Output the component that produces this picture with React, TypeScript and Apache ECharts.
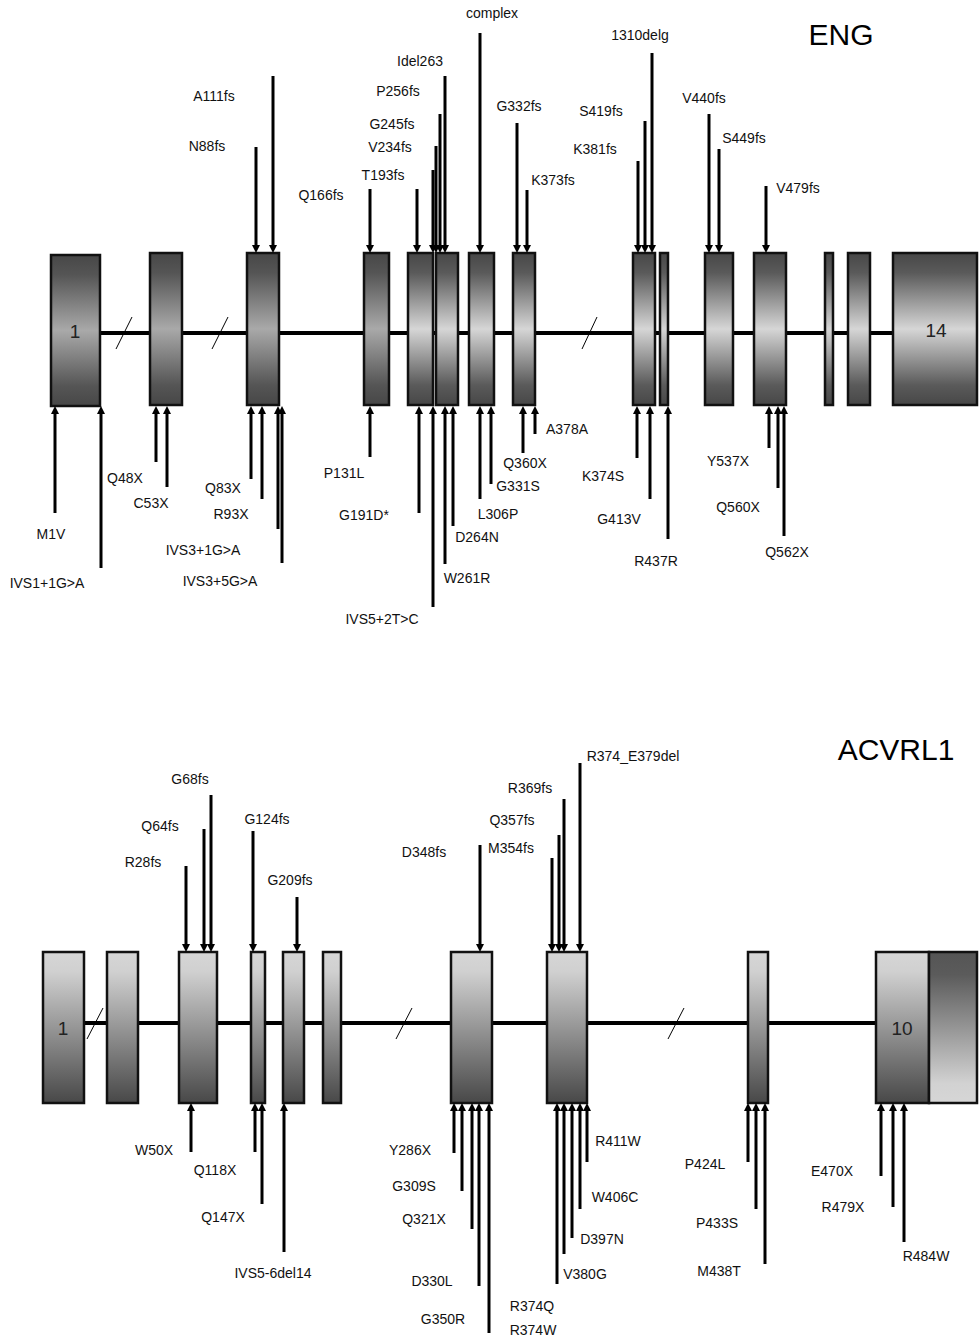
import React, { useEffect, useRef } from "react";
import * as echarts from "echarts";

const W = 979;
const H = 1340;

// Titles and exon numbers: [text, x, y]
const TITLES: [string, number, number][] = [
  ["ENG", 841, 34],
  ["ACVRL1", 896, 749],
];
const EXON_NUMBERS: [string, number, number][] = [
  ["1", 75, 331],
  ["14", 936, 330],
  ["1", 63, 1028],
  ["10", 902, 1028],
];

// Exons: [xStart, xEnd, yTop, yBottom, shade]
const ENG_EXONS: number[][] = [
  [51, 100, 255, 406, 0],
  [150, 182, 253, 405, 0],
  [247, 279, 253, 405, 0],
  [364, 389, 253, 405, 0],
  [408, 433, 253, 405, 1],
  [436, 458, 253, 405, 1],
  [469, 494, 253, 405, 1],
  [513, 535, 253, 405, 1],
  [633, 655, 253, 405, 1],
  [660, 668, 253, 405, 1],
  [705, 733, 253, 405, 1],
  [754, 786, 253, 405, 1],
  [825, 833, 253, 405, 1],
  [848, 870, 253, 405, 1],
  [893, 977, 253, 405, 1],
];
const ACVRL1_EXONS: number[][] = [
  [43, 84, 952, 1103, 2],
  [107, 138, 952, 1103, 2],
  [179, 217, 952, 1103, 2],
  [251, 265, 952, 1103, 2],
  [283, 304, 952, 1103, 2],
  [323, 341, 952, 1103, 2],
  [451, 492, 952, 1103, 2],
  [547, 587, 952, 1103, 2],
  [748, 768, 952, 1103, 2],
  [876, 929, 952, 1103, 2],
  [929, 977, 952, 1103, 3],
];

// Backbone (intron) lines: [x0, y0, x1, y1]
const BACKBONES: number[][] = [
  [100, 333, 893, 333],
  [84, 1023, 876, 1023],
];
// Break marks: [x0, y0, x1, y1]
const BREAKS: number[][] = [
  [116, 349, 132, 317],
  [212, 349, 228, 317],
  [582, 349, 597, 317],
  [87, 1039, 103, 1008],
  [396, 1039, 412, 1008],
  [668, 1039, 684, 1008],
];

// Arrow tip positions (exon edges)
const ENG_TOP_TIP = 253;
const ENG_BOTTOM_TIP = 406;
const ACVRL1_TOP_TIP = 952;
const ACVRL1_BOTTOM_TIP = 1103;

// Mutations: [label, arrowX, arrowTailY, labelX, labelY]
type Mut = [string, number | null, number | null, number, number];

const ENG_TOP: Mut[] = [
  ["N88fs", 256, 147, 207, 146],
  ["A111fs", 273, 76, 214, 96],
  ["Q166fs", 370, 189, 321, 195],
  ["T193fs", 417, 189, 383, 175],
  ["V234fs", 433, 170, 390, 147],
  ["G245fs", 436, 146, 392, 124],
  ["P256fs", 440, 114, 398, 91],
  ["Idel263", 445, 76, 420, 61],
  ["complex", 480, 33, 492, 13],
  ["G332fs", 517, 123, 519, 106],
  ["K373fs", 527, 190, 553, 180],
  ["K381fs", 638, 161, 595, 149],
  ["S419fs", 645, 121, 601, 111],
  ["1310delg", 652, 53, 640, 35],
  ["V440fs", 709, 114, 704, 98],
  ["S449fs", 719, 149, 744, 138],
  ["V479fs", 766, 186, 798, 188],
];

const ENG_BOTTOM: Mut[] = [
  ["M1V", 55, 513, 51, 534],
  ["IVS1+1G>A", 101, 568, 47, 583],
  ["Q48X", 156, 462, 125, 478],
  ["C53X", 167, 487, 151, 503],
  ["Q83X", 251, 479, 223, 488],
  ["R93X", 262, 499, 231, 514],
  ["IVS3+1G>A", 278, 529, 203, 550],
  ["IVS3+5G>A", 282, 563, 220, 581],
  ["P131L", 370, 457, 344, 473],
  ["G191D*", 419, 513, 364, 515],
  ["IVS5+2T>C", 433, 607, 382, 619],
  ["W261R", 445, 564, 467, 578],
  ["D264N", 453, 526, 477, 537],
  ["L306P", 480, 499, 498, 514],
  ["G331S", 491, 484, 518, 486],
  ["Q360X", 523, 453, 525, 463],
  ["A378A", 535, 434, 567, 429],
  ["K374S", 637, 458, 603, 476],
  ["G413V", 650, 499, 619, 519],
  ["R437R", 668, 539, 656, 561],
  ["Y537X", 769, 448, 728, 461],
  ["Q560X", 778, 488, 738, 507],
  ["Q562X", 784, 536, 787, 552],
];

const ACVRL1_TOP: Mut[] = [
  ["R28fs", 186, 866, 143, 862],
  ["Q64fs", 204, 829, 160, 826],
  ["G68fs", 211, 795, 190, 779],
  ["G124fs", 253, 831, 267, 819],
  ["G209fs", 297, 897, 290, 880],
  ["D348fs", 480, 845, 424, 852],
  ["M354fs", 552, 858, 511, 848],
  ["Q357fs", 559, 835, 512, 820],
  ["R369fs", 564, 799, 530, 788],
  ["R374_E379del", 580, 763, 633, 756],
];

const ACVRL1_BOTTOM: Mut[] = [
  ["W50X", 191, 1152, 154, 1150],
  ["Q118X", 255, 1152, 215, 1170],
  ["Q147X", 262, 1204, 223, 1217],
  ["IVS5-6del14", 284, 1252, 273, 1273],
  ["Y286X", 454, 1153, 410, 1150],
  ["G309S", 462, 1191, 414, 1186],
  ["Q321X", 472, 1229, 424, 1219],
  ["D330L", 479, 1286, 432, 1281],
  ["G350R", 489, 1333, 443, 1319],
  ["R374Q", 557, 1284, 532, 1306],
  ["R374W", null, null, 533, 1330],
  ["V380G", 564, 1254, 585, 1274],
  ["D397N", 572, 1238, 602, 1239],
  ["W406C", 580, 1209, 615, 1197],
  ["R411W", 587, 1162, 618, 1141],
  ["P424L", 748, 1162, 705, 1164],
  ["P433S", 756, 1209, 717, 1223],
  ["M438T", 765, 1264, 719, 1271],
  ["E470X", 881, 1176, 832, 1171],
  ["R479X", 893, 1207, 843, 1207],
  ["R484W", 904, 1242, 926, 1256],
];

const SHADES: [number, string][][] = [
  [[0, "#474747"], [0.13, "#555555"], [0.5, "#a9a9a9"], [0.87, "#555555"], [1, "#474747"]],
  [[0, "#474747"], [0.13, "#5a5a5a"], [0.5, "#d6d6d6"], [0.87, "#5a5a5a"], [1, "#474747"]],
  [[0, "#d6d6d6"], [0.13, "#d0d0d0"], [1, "#484848"]],
  [[0, "#555555"], [0.15, "#5b5b5b"], [0.87, "#d2d2d2"], [1, "#d6d6d6"]],
];

const FONT = '"Liberation Sans", Arial, sans-serif';

function arrowRows(muts: Mut[], tip: number): number[][] {
  return muts.filter((m) => m[1] !== null).map((m) => [m[1] as number, tip, m[2] as number]);
}

export default function App() {
  const ref = useRef<HTMLDivElement>(null);

  useEffect(() => {
    if (!ref.current) return;
    const chart = echarts.init(ref.current, null, { renderer: "svg" });

    const exons = [...ENG_EXONS, ...ACVRL1_EXONS];
    const arrows = [
      ...arrowRows(ENG_TOP, ENG_TOP_TIP),
      ...arrowRows(ENG_BOTTOM, ENG_BOTTOM_TIP),
      ...arrowRows(ACVRL1_TOP, ACVRL1_TOP_TIP),
      ...arrowRows(ACVRL1_BOTTOM, ACVRL1_BOTTOM_TIP),
    ];
    const allMuts = [...ENG_TOP, ...ENG_BOTTOM, ...ACVRL1_TOP, ...ACVRL1_BOTTOM];

    const textSeries = (id: string, items: [string, number, number][], size: number, color: string, z: number) => ({
      type: "custom",
      id,
      coordinateSystem: "cartesian2d",
      clip: false,
      z,
      silent: true,
      data: items.map((t) => ({ name: t[0], value: [t[1], t[2]] })),
      renderItem: (params: any, api: any) => {
        const p = api.coord([api.value(0), api.value(1)]);
        const text = items[params.dataIndex][0];
        return {
          type: "text",
          x: p[0],
          y: p[1],
          style: {
            text,
            fill: color,
            font: `${size}px ${FONT}`,
            fontSize: size,
            fontFamily: FONT,
            align: "center",
            verticalAlign: "middle",
            textAlign: "center",
            textVerticalAlign: "middle",
          },
        };
      },
    });

    const lineSeries = (id: string, rows: number[][], width: number, z: number) => ({
      type: "custom",
      id,
      coordinateSystem: "cartesian2d",
      clip: false,
      z,
      silent: true,
      data: rows,
      renderItem: (_params: any, api: any) => {
        const a = api.coord([api.value(0), api.value(1)]);
        const b = api.coord([api.value(2), api.value(3)]);
        return {
          type: "line",
          shape: { x1: a[0], y1: a[1], x2: b[0], y2: b[1] },
          style: { stroke: "#000", lineWidth: width },
        };
      },
    });

    const option: any = {
      animation: false,
      backgroundColor: "#ffffff",
      grid: { left: 0, right: 0, top: 0, bottom: 0, containLabel: false },
      xAxis: { type: "value", min: 0, max: W, show: false },
      yAxis: { type: "value", min: 0, max: H, inverse: true, show: false },
      series: [
        lineSeries("backbone", BACKBONES, 4, 1),
        lineSeries("breaks", BREAKS, 1, 2),
        {
          type: "custom",
          id: "exons",
          coordinateSystem: "cartesian2d",
          clip: false,
          z: 3,
          silent: true,
          data: exons,
          renderItem: (_params: any, api: any) => {
            const p0 = api.coord([api.value(0), api.value(2)]);
            const p1 = api.coord([api.value(1), api.value(3)]);
            const shade = SHADES[api.value(4)];
            return {
              type: "rect",
              shape: { x: p0[0], y: p0[1], width: p1[0] - p0[0], height: p1[1] - p0[1] },
              style: {
                fill: new echarts.graphic.LinearGradient(
                  0, 0, 0, 1,
                  shade.map(([o, c]) => ({ offset: o, color: c }))
                ),
                stroke: "#111",
                lineWidth: 2.5,
              },
            };
          },
        },
        {
          type: "custom",
          id: "arrows",
          coordinateSystem: "cartesian2d",
          clip: false,
          z: 4,
          silent: true,
          data: arrows,
          renderItem: (_params: any, api: any) => {
            const tip = api.coord([api.value(0), api.value(1)]);
            const tail = api.coord([api.value(0), api.value(2)]);
            const dir = tip[1] > tail[1] ? 1 : -1;
            const headH = 8;
            const headW = 4;
            const x = tip[0];
            return {
              type: "group",
              children: [
                {
                  type: "line",
                  shape: { x1: x, y1: tail[1], x2: x, y2: tip[1] - dir * (headH - 1) },
                  style: { stroke: "#000", lineWidth: 3 },
                },
                {
                  type: "polygon",
                  shape: {
                    points: [
                      [x - headW, tip[1] - dir * headH],
                      [x + headW, tip[1] - dir * headH],
                      [x, tip[1]],
                    ],
                  },
                  style: { fill: "#000" },
                },
              ],
            };
          },
        },
        textSeries("labels", allMuts.map((m) => [m[0], m[3], m[4]] as [string, number, number]), 14, "#111", 5),
        textSeries("exonNumbers", EXON_NUMBERS, 19, "#222", 6),
        textSeries("titles", TITLES, 30, "#000", 6),
      ],
    };

    chart.setOption(option);
    return () => chart.dispose();
  }, []);

  return (
    <div
      ref={ref}
      style={{ position: "fixed", left: 0, top: 0, width: W, height: H, background: "#fff" }}
    />
  );
}
